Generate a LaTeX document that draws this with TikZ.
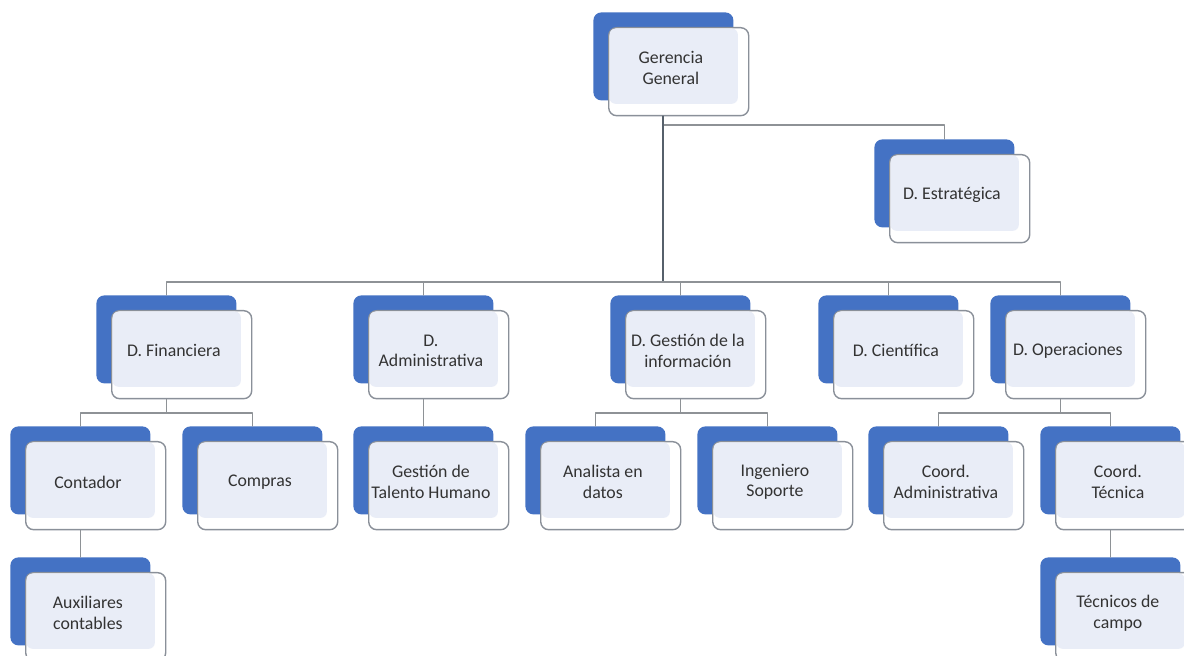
\documentclass[tikz,border=0pt]{standalone}
\usepackage{fontspec}
\setmainfont{Carlito}
\usetikzlibrary{calc}
\definecolor{azul}{HTML}{4472C4}
\definecolor{claro}{HTML}{E9EDF7}
\definecolor{borde}{HTML}{8A9099}
\definecolor{linea}{HTML}{8E9296}
\definecolor{oscuro}{HTML}{56606B}
\definecolor{texto}{HTML}{333333}
\newcommand{\caja}[4]{%
	\node[fondo, anchor=north west] (#1) at (#2,#3) {};
	\node[tapa, anchor=north west] (#1-w) at ([shift={(15,15)}]#1.north west) {};
	\fill[claro, rounded corners=3pt] ([shift={(1.5,1.5)}]#1-w.north west) rectangle ([shift={(4,3)}]#1.south east);
	\node[rotulo] (#1-t) at ($(#1-w.north west)!0.5!(#1.south east)+(0,4)$) {#4};
}
\begin{document}
\begin{tikzpicture}[x=0.5pt,y=-0.5pt,line join=round,line cap=round]
	\tikzset{fondo/.style={fill=azul, rounded corners=4pt, minimum width=70pt, minimum height=44pt, inner sep=0pt},
		tapa/.style={fill=white, draw=borde, line width=0.7pt, rounded corners=4pt, minimum width=70pt, minimum height=44pt, inner sep=0pt},
		rotulo/.style={align=center, text=texto, inner sep=0pt, font=\fontsize{8.9}{10.4}\selectfont},
		con/.style={draw=linea, line width=0.6pt},
		principal/.style={draw=oscuro, line width=1pt}}
	\useasboundingbox[fill=white] (0,0) rectangle (1184,656);
	\caja{gg}{593}{12}{Gerencia\\General}
	\caja{est}{874}{139}{D. Estratégica}
	\caja{fin}{96}{295}{D. Financiera}
	\caja{adm}{353}{295}{D.\\Administrativa}
	\caja{gst}{610}{295}{D. Gestión de la\\información}
	\caja{cie}{818}{295}{D. Científica}
	\caja{ope}{990}{295}{D. Operaciones}
	\caja{con}{10}{426}{Contador}
	\caja{com}{182}{426}{Compras}
	\caja{tal}{353}{426}{Gestión de\\Talento Humano}
	\caja{ana}{525}{426}{Analista en\\datos}
	\caja{ing}{697}{426}{Ingeniero\\Soporte}
	\caja{cad}{868}{426}{Coord.\\Administrativa}
	\caja{cte}{1040}{426}{Coord.\\Técnica}
	\caja{aux}{10}{557}{Auxiliares\\contables}
	\caja{tec}{1040}{557}{Técnicos de\\campo}
	\coordinate (e1) at (0,125);
	\coordinate (b1) at (0,282);
	\coordinate (b2) at (0,413);
	\draw[con] (gg.center |- e1) -| (est.north);
	\draw[principal] (gg.center |- gg-w.south) -- (gg.center |- b1);
	\draw[con] (fin.north) |- (ope.north |- b1) -- (ope.north);
	\foreach \n in {adm,gst,cie}
	\draw[con] (\n.north) -- (\n.north |- b1);
	\foreach \p/\a/\b in {fin/con/com,gst/ana/ing,ope/cad/cte}{
		\draw[con] (\p.center |- \p-w.south) -- (\p.center |- b2);
		\draw[con] (\a.north) |- (\b.north |- b2) -- (\b.north);
	}
	\foreach \p/\h in {adm/tal,con/aux,cte/tec}
	\draw[con] (\p.center |- \p-w.south) -- (\h.north);
\end{tikzpicture}
\end{document}
